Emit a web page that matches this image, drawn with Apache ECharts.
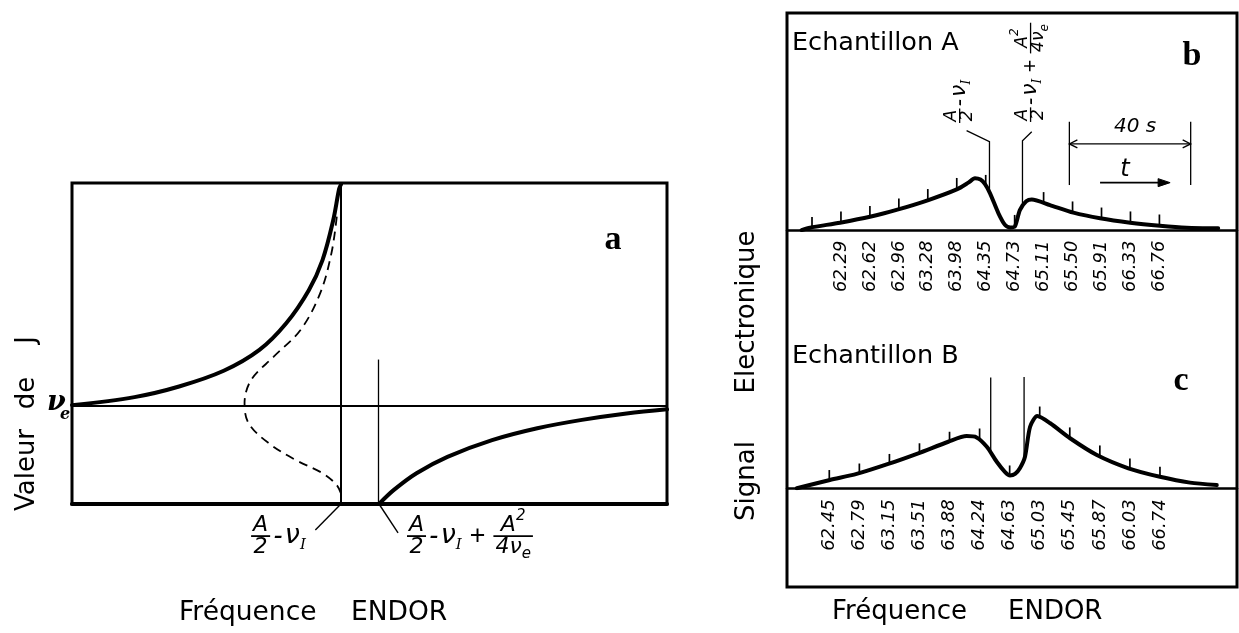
<!DOCTYPE html>
<html>
<head>
<meta charset="utf-8">
<title>Fréquence ENDOR</title>
<script src="https://cdn.jsdelivr.net/npm/echarts@6.0.0/dist/echarts.min.js"></script>
<style>
html, body { margin: 0; padding: 0; background: #fff; }
#chart { width: 1239px; height: 633px; }
</style>
</head>
<body>
<div id="chart"></div>
<script>
// ---------- Panel a: value of J versus ENDOR frequency (arbitrary units 0..10) ----------
const NU_E_LEVEL = 3.05;              // level of nu_e on the J axis
const A_LINES = [4.52, 5.14];         // A/2 - nu_I  and  A/2 - nu_I + A^2/4nu_e
const aUpper = [[0, 3.08], [1.05, 3.33], [1.8, 3.66], [2.55, 4.15], [3.15, 4.8], [3.6, 5.63],
  [3.98, 6.66], [4.21, 7.6], [4.39, 8.84], [4.49, 9.82], [4.52, 9.95]];
const aDashed = [[4.45, 8.95], [4.36, 7.81], [4.17, 6.56], [3.84, 5.42], [3.39, 4.59], [3.01, 3.86],
  [2.9, 3.14], [2.97, 2.51], [3.31, 1.89], [3.76, 1.37], [4.21, 0.96], [4.45, 0.59], [4.53, 0.28]];
const aLower = [[5.17, 0.02], [5.41, 0.44], [5.79, 0.96], [6.31, 1.47], [7.06, 1.99], [7.82, 2.36],
  [8.57, 2.62], [9.32, 2.82], [10, 2.95]];

// ---------- Panel b: sample A, x counted in frequency markers ----------
const bCurve = [[-0.36, 0.2], [-0.07, 1.3], [0.97, 3.6], [2.0, 6.3], [2.98, 9.7], [4.02, 14.0],
  [5.0, 18.9], [5.4, 22.0], [5.63, 24.0], [5.82, 23.4], [5.97, 21.4], [6.15, 17.1], [6.44, 7.9],
  [6.67, 2.5], [6.85, 1.4], [7.01, 1.9], [7.18, 9.4], [7.4, 13.4], [7.59, 14.3], [8.22, 11.7],
  [9.03, 8.2], [9.95, 5.6], [10.99, 3.6], [12.02, 2.2], [12.94, 1.3], [14.03, 1.0]];
const bMarkerLevel = [1.1, 3.7, 6.2, 9.7, 14.0, 19.1, 20.5, 2.1, 12.6, 8.3, 5.5, 3.7, 2.3];
const bFreq = ['62.29', '62.62', '62.96', '63.28', '63.98', '64.35', '64.73', '65.11',
  '65.50', '65.91', '66.33', '66.76'];          // markers 1..12
const bLines = [[6.13, 17.2], [7.27, 12.6]];   // marker position, level where the line meets the trace

// ---------- Panel c: sample B ----------
const cCurve = [[-1.08, 0], [0.02, 3.8], [0.91, 6.6], [1.96, 11.2], [2.96, 16.1], [3.96, 21.4],
  [4.57, 24.0], [4.9, 23.4], [5.24, 19.1], [5.57, 12.2], [5.84, 7.6], [6.01, 5.9], [6.18, 6.6],
  [6.34, 9.2], [6.51, 14.5], [6.68, 28.3], [6.92, 33.2], [7.35, 29.9], [8.01, 23.0], [8.9, 15.3],
  [9.95, 9.2], [11.0, 5.3], [12.0, 2.6], [12.89, 1.5]];
const cMarkerLevel = [3.8, 6.8, 11.2, 16.1, 21.4, 22.9, 5.9, 33.0, 23.4, 15.1, 9.1, 5.3];
const cFreq = ['62.45', '62.79', '63.15', '63.51', '63.88', '64.24', '64.63', '65.03',
  '65.45', '65.87', '66.03', '66.74'];          // markers 0..11
const cLines = [[5.37, 16.5], [6.48, 13.5]];

// ---------- text helpers ----------
const SANS = '"DejaVu Sans", sans-serif';
const SERIF = '"DejaVu Serif", serif';
const NARROW = '"Liberation Sans", sans-serif';
const BOLD_SERIF = '"Liberation Serif", "DejaVu Serif", serif';
const measureCtx = document.createElement('canvas').getContext('2d');
function widthOf(str, font) { measureCtx.font = font; return measureCtx.measureText(str).width; }
function italic(size, family) { return 'italic ' + size + 'px ' + (family || SANS); }

function txt(str, x, y, font, align, vAlign, rotation) {
  const el = {
    type: 'text', x: x, y: y,
    style: { text: str, font: font, fill: '#000', align: align, verticalAlign: vAlign,
      textAlign: align, textVerticalAlign: vAlign }
  };
  if (rotation) el.rotation = rotation;
  return el;
}
function seg(p, q, w) {
  return { type: 'line', shape: { x1: p[0], y1: p[1], x2: q[0], y2: q[1] },
    style: { stroke: '#000', lineWidth: w, fill: 'none' } };
}
function poly(points, w) {
  return { type: 'polyline', shape: { points: points }, style: { stroke: '#000', lineWidth: w, fill: 'none' } };
}

// A run is {t, k}: k = 'f' fraction text, 'm' main line text, 'sub', 'sup'
function runFont(r, sz) {
  const size = (r.k === 'sub' || r.k === 'sup') ? sz.small : (r.k === 'm' ? sz.main : sz.frac);
  return { size: size, font: italic(size, r.fam || SANS) };
}
function runsWidth(runs, sz) {
  let w = 0;
  runs.forEach(r => { w += widthOf(r.t, runFont(r, sz).font) + (r.gap || 0) * sz.main / 10; });
  return w;
}
function placeRuns(runs, x, cy, sz, kids) {
  let prev = sz.frac;
  runs.forEach(r => {
    const f = runFont(r, sz);
    let dy = 0;
    if (r.k === 'sub') dy = prev * 0.33;
    if (r.k === 'sup') dy = -prev * 0.42;
    kids.push(txt(r.t, x, cy + dy, f.font, 'left', 'middle'));
    x += widthOf(r.t, f.font) + (r.gap || 0) * sz.main / 10;
    if (r.k !== 'sub' && r.k !== 'sup') prev = f.size;
  });
  return x;
}
// Lays an expression out along +x from the origin, fraction bars on y = 0.
function buildExpr(tokens, sz) {
  const kids = [];
  let x = 0;
  tokens.forEach(tok => {
    if (tok.num) {
      const wn = runsWidth(tok.num, sz), wd = runsWidth(tok.den, sz);
      const w = Math.max(wn, wd) + 2 * sz.pad;
      kids.push(seg([x, 0], [x + w, 0], sz.bar));
      const capHalf = sz.frac * 0.37;
      placeRuns(tok.num, x + (w - wn) / 2, -sz.gap - capHalf, sz, kids);
      placeRuns(tok.den, x + (w - wd) / 2, sz.gap + capHalf, sz, kids);
      x += w + sz.sp;
    } else {
      x = placeRuns(tok.runs, x, 0, sz, kids) + sz.sp;
    }
  });
  return kids;
}

const FRAC_A2 = { num: [{ t: 'A', k: 'f' }], den: [{ t: '2', k: 'f' }] };
const NU_I = [{ t: '-', k: 'm', fam: NARROW, gap: 1 }, { t: 'ν', k: 'm' }, { t: 'I', k: 'sub', fam: SERIF }];
const EXPR_LOW = [FRAC_A2, { runs: NU_I }];
const EXPR_HIGH = [FRAC_A2, { runs: NU_I.concat([{ t: ' +', k: 'm', fam: NARROW, gap: 2 }]) },
  { num: [{ t: 'A', k: 'f' }, { t: '2', k: 'sup' }],
    den: [{ t: '4', k: 'f' }, { t: 'ν', k: 'f' }, { t: 'e', k: 'sub' }] }];
const SZ_A = { frac: 22, main: 27, small: 15, gap: 3, pad: 2, bar: 1.8, sp: 3 };
const SZ_B = { frac: 17, main: 22, small: 12, gap: 2, pad: 1.5, bar: 1.3, sp: 2 };

// ---------- series builders ----------
function trace(data, idx, extra) {
  return Object.assign({
    type: 'line', data: data, xAxisIndex: idx, yAxisIndex: idx, smooth: 0.3,
    symbol: 'none', silent: true, z: 5,
    lineStyle: { color: '#000', width: 4, cap: 'round', join: 'round' }
  }, extra || {});
}
function markers(levels, idx, len) {
  return {
    type: 'custom', xAxisIndex: idx, yAxisIndex: idx, silent: true, z: 4,
    data: levels.map((v, i) => [i, v]),
    renderItem: (params, api) => {
      const p = api.coord([api.value(0), api.value(1)]);
      return { type: 'line', shape: { x1: p[0], y1: p[1], x2: p[0], y2: p[1] - len },
        style: { stroke: '#000', lineWidth: 1.7, fill: 'none' } };
    }
  };
}
function overlay(idx, draw) {
  return {
    type: 'custom', xAxisIndex: idx, yAxisIndex: idx, silent: true, z: 6,
    data: [[0, 0]],
    renderItem: (params, api) => ({ type: 'group', children: draw(api) })
  };
}

const option = {
  animation: false,
  backgroundColor: '#fff',
  grid: [
    { left: 72, top: 183, width: 595, height: 321, show: true, borderColor: '#000', borderWidth: 3,
      backgroundColor: 'transparent', outerBoundsMode: 'none' },
    { left: 787, top: 13, width: 450, height: 217.5, outerBoundsMode: 'none' },
    { left: 787, top: 270.8, width: 450, height: 217.5, outerBoundsMode: 'none' }
  ],
  xAxis: [
    { gridIndex: 0, type: 'value', min: 0, max: 10, axisLine: { show: true, lineStyle: { color: '#000', width: 4 } },
      axisTick: { show: false }, axisLabel: { show: false }, splitLine: { show: false } },
    { gridIndex: 1, type: 'value', min: -0.8636, max: 14.680,
      axisLine: { show: true, onZero: false, lineStyle: { color: '#000', width: 2.5 } },
      axisTick: { show: false }, splitLine: { show: false },
      axisLabel: { customValues: bFreq.map((s, i) => i + 1), formatter: v => bFreq[Math.round(v) - 1] || '',
        rotate: 90, margin: 10, color: '#000', fontSize: 18, fontStyle: 'italic', fontFamily: 'DejaVu Sans' } },
    { gridIndex: 2, type: 'value', min: -1.407, max: 13.563,
      axisLine: { show: true, onZero: false, lineStyle: { color: '#000', width: 2.5 } },
      axisTick: { show: false }, splitLine: { show: false },
      axisLabel: { customValues: cFreq.map((s, i) => i), formatter: v => cFreq[Math.round(v)] || '',
        rotate: 90, margin: 11, color: '#000', fontSize: 18, fontStyle: 'italic', fontFamily: 'DejaVu Sans' } }
  ],
  yAxis: [
    { gridIndex: 0, type: 'value', min: 0, max: 10, show: false },
    { gridIndex: 1, type: 'value', min: 0, max: 100, show: false },
    { gridIndex: 2, type: 'value', min: 0, max: 100, show: false }
  ],
  series: [
    trace(aUpper, 0, {
      smooth: 0.35,
      markLine: {
        symbol: 'none', silent: true, animation: false, label: { show: false },
        lineStyle: { color: '#000', type: 'solid', width: 2 },
        data: [
          { yAxis: NU_E_LEVEL },
          { xAxis: A_LINES[0] },
          [{ coord: [A_LINES[1], 0], lineStyle: { width: 1.3 } }, { coord: [A_LINES[1], 4.5] }]
        ]
      }
    }),
    trace(aDashed, 0, { smooth: 0.35, lineStyle: { color: '#000', width: 1.8, type: [9, 6] } }),
    trace(aLower, 0, { smooth: 0.35 }),
    overlay(0, api => {
      const c = (x, y) => api.coord([x, y]);
      const k = [];
      k.push(seg(c(A_LINES[0], 0), c(4.09, -0.81), 1.4));
      k.push(seg(c(5.16, 0), c(5.48, -0.9), 1.4));
      const g1 = c(3.01, -1.0), g2 = c(5.63, -1.0);
      k.push({ type: 'group', x: g1[0], y: g1[1], children: buildExpr(EXPR_LOW, SZ_A) });
      k.push({ type: 'group', x: g2[0], y: g2[1], children: buildExpr(EXPR_HIGH, SZ_A) });
      const o = c(0, NU_E_LEVEL);
      k.push(txt('ν', o[0] - 25, o[1] - 3, 'italic bold 27px ' + SERIF, 'left', 'middle'));
      k.push(txt('e', o[0] - 12, o[1] + 9, 'italic bold 16px ' + SERIF, 'left', 'middle'));
      return k;
    }),

    trace(bCurve, 1, { smooth: 0.25 }),
    markers(bMarkerLevel, 1, 11),
    overlay(1, api => {
      const c = (x, y) => api.coord([x, y]);
      const k = [];
      k.push(poly([c(5.34, 45.9), c(bLines[0][0], 40.8), c(bLines[0][0], bLines[0][1])], 1.3));
      k.push(poly([c(7.59, 45.4), c(bLines[1][0], 41.3), c(bLines[1][0], bLines[1][1])], 1.3));
      const g1 = c(5.1, 49.4), g2 = c(7.55, 49.9);
      k.push({ type: 'group', x: g1[0], y: g1[1], rotation: Math.PI / 2, children: buildExpr(EXPR_LOW, SZ_B) });
      k.push({ type: 'group', x: g2[0], y: g2[1], rotation: Math.PI / 2, children: buildExpr(EXPR_HIGH, SZ_B) });
      // 40 s time bracket
      const l0 = c(8.89, 50), l1 = c(8.89, 20.9), r0 = c(13.08, 50), r1 = c(13.08, 20.9);
      k.push(seg(l0, l1, 1.3));
      k.push(seg(r0, r1, 1.3));
      const a0 = c(8.89, 39.8), a1 = c(13.08, 39.8);
      k.push(seg(a0, a1, 1.3));
      k.push(poly([[a0[0] + 8, a0[1] - 4], a0, [a0[0] + 8, a0[1] + 4]], 1.3));
      k.push(poly([[a1[0] - 8, a1[1] - 4], a1, [a1[0] - 8, a1[1] + 4]], 1.3));
      const tl = c(11.16, 47.6);
      k.push(txt('40 s', tl[0], tl[1], italic(20), 'center', 'middle'));
      const tt = c(10.81, 27.8);
      k.push(txt('t', tt[0], tt[1], italic(24), 'center', 'middle'));
      const s0 = c(9.95, 22), s1 = c(12.37, 22);
      k.push(seg(s0, [s1[0] - 6, s1[1]], 1.6));
      k.push({ type: 'polygon', shape: { points: [[s1[0], s1[1]], [s1[0] - 12, s1[1] - 4], [s1[0] - 12, s1[1] + 4]] },
        style: { fill: '#000', stroke: '#000', lineWidth: 1 } });
      return k;
    }),

    trace(cCurve, 2, { smooth: 0.25 }),
    markers(cMarkerLevel, 2, 10),
    overlay(2, api => {
      const c = (x, y) => api.coord([x, y]);
      return [
        seg(c(cLines[0][0], 50.9), c(cLines[0][0], cLines[0][1]), 1.3),
        seg(c(cLines[1][0], 51.2), c(cLines[1][0], cLines[1][1]), 1.3)
      ];
    })
  ],
  graphic: [
    { type: 'rect', shape: { x: 787, y: 13, width: 450, height: 574 },
      style: { fill: 'none', stroke: '#000', lineWidth: 3 }, z: 10 },
    txt('Echantillon A', 792, 43, '25.5px ' + SANS, 'left', 'middle'),
    txt('Echantillon B', 792, 356, '25.5px ' + SANS, 'left', 'middle'),
    txt('a', 613, 240, 'bold 34px ' + BOLD_SERIF, 'center', 'middle'),
    txt('b', 1192, 56, 'bold 34px ' + BOLD_SERIF, 'center', 'middle'),
    txt('c', 1181, 381, 'bold 34px ' + BOLD_SERIF, 'center', 'middle'),
    txt('Fréquence', 179, 613, '26.5px ' + SANS, 'left', 'middle'),
    txt('ENDOR', 351, 613, '26.5px ' + SANS, 'left', 'middle'),
    txt('Fréquence', 832, 612, '26px ' + SANS, 'left', 'middle'),
    txt('ENDOR', 1008, 612, '26px ' + SANS, 'left', 'middle'),
    txt('Valeur', 27, 470, '26px ' + SANS, 'center', 'middle', Math.PI / 2),
    txt('de', 27, 393, '26px ' + SANS, 'center', 'middle', Math.PI / 2),
    txt('J', 27, 340, '26px ' + SANS, 'center', 'middle', Math.PI / 2),
    txt('Signal', 747, 481, '26px ' + SANS, 'center', 'middle', Math.PI / 2),
    txt('Electronique', 747, 312, '26px ' + SANS, 'center', 'middle', Math.PI / 2)
  ]
};

const chart = echarts.init(document.getElementById('chart'));
chart.setOption(option);
</script>
</body>
</html>
